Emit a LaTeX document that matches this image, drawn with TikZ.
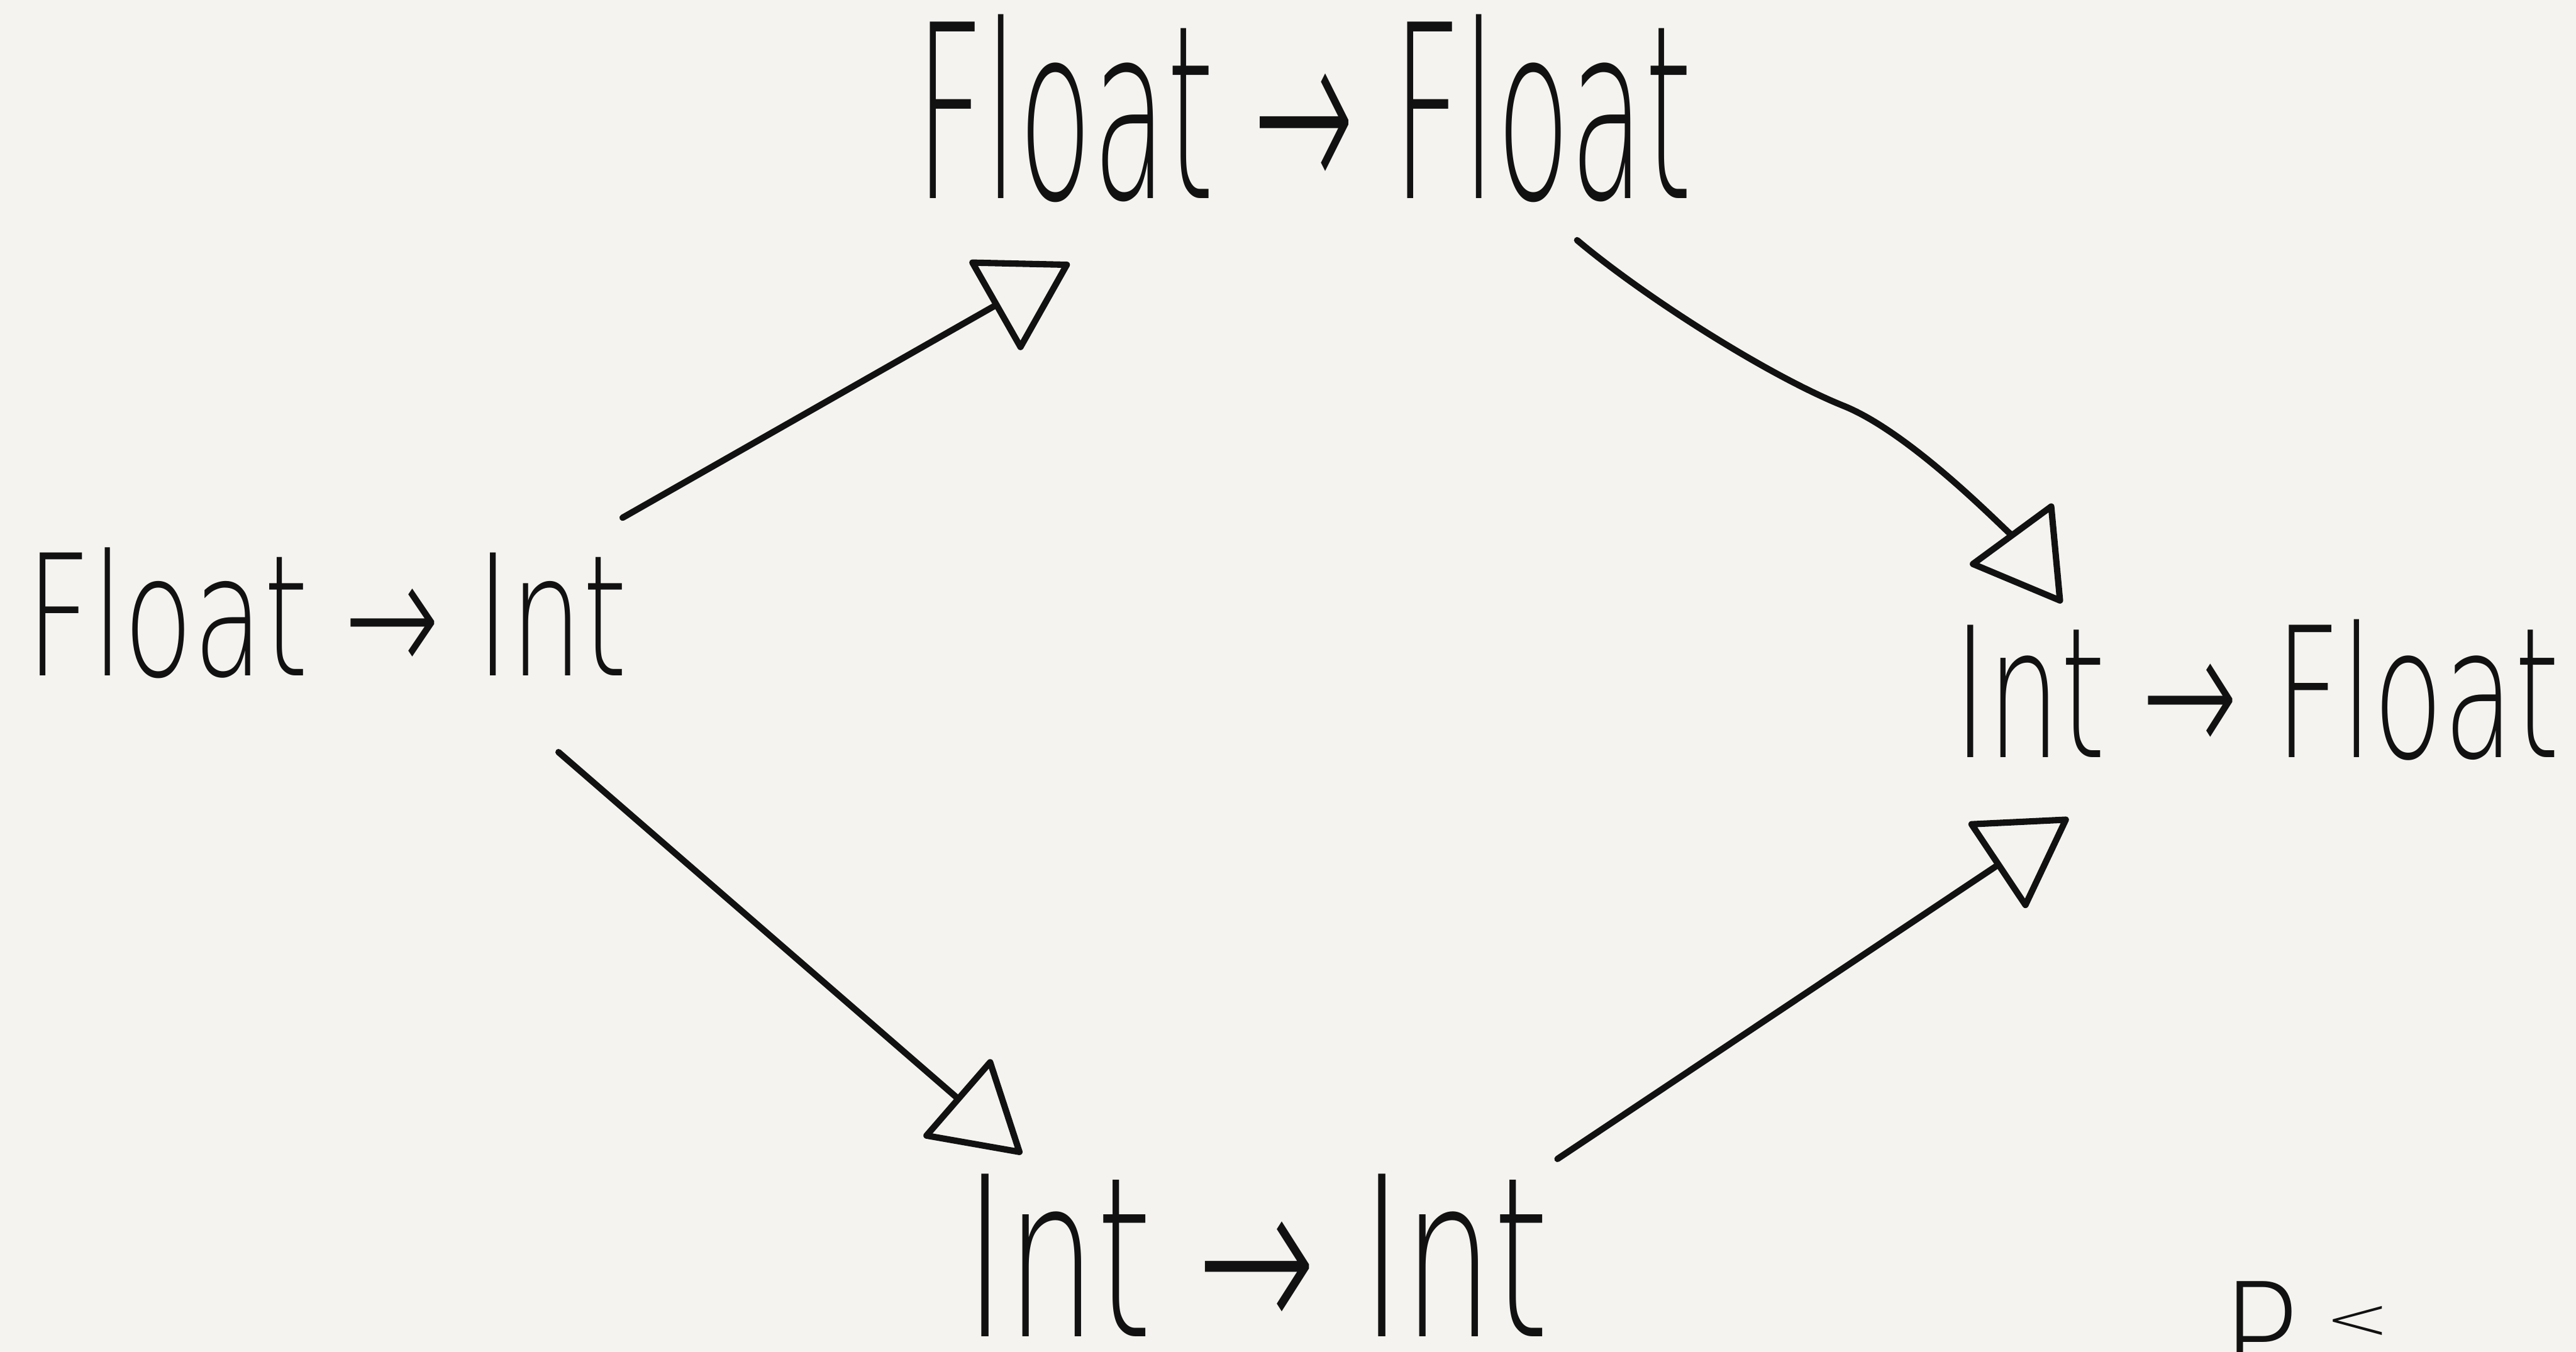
\documentclass[tikz,border=0pt]{standalone}
\usepackage{fontspec}
\setmainfont{DejaVu Sans ExtraLight}
\usetikzlibrary{arrows.meta}
\definecolor{paper}{HTML}{F4F3EF}
\definecolor{ink}{HTML}{111111}
\tikzset{
  lbl/.style={inner sep=0pt, outer sep=0pt, text=ink},
  conn/.style={draw=ink, line width=2.2pt, line cap=round, line join=round,
    -{Triangle[open,round,length=1.1cm,width=1.3cm]}},
}
\begin{document}
\begin{tikzpicture}[x=0.02cm,y=-0.02cm]
\clip (0,0) rectangle (1568,823);
\fill[paper] (0,0) rectangle (1568,823);

\node[lbl] (T) at (793.5,66) {\resizebox{9.46cm}{2.24cm}{Float → Float}};
\node[lbl] (L) at (199,373) {\resizebox{7.32cm}{1.56cm}{Float → Int}};
\node[lbl] (R) at (1373.5,420) {\resizebox{7.38cm}{1.68cm}{Int → Float}};
\node[lbl] (B) at (765,764) {\resizebox{7.12cm}{1.98cm}{Int → Int}};
\node[lbl, anchor=north west] (P) at (1352,780)
  {\resizebox{0.96cm}{1.3cm}{P}\hspace{0.3cm}\raisebox{0.6cm}{\resizebox{0.8cm}{0.4cm}{<}}};

\draw[conn] ([shift={(-3,-18)}]L.north east) -- ([shift={(94,37)}]T.south west);
\draw[conn] ([shift={(-70,23)}]T.south east)
  .. controls (1000,180) and (1075,228) .. (1122,247)
  .. controls (1167,265) and (1230,333) .. ([shift={(66,-10)}]R.north west);
\draw[conn] ([shift={(-42,45)}]L.south east) -- ([shift={(35,-12)}]B.north west);
\draw[conn] ([shift={(5,-9)}]B.north east) -- ([shift={(70,35)}]R.south west);
\end{tikzpicture}
\end{document}
